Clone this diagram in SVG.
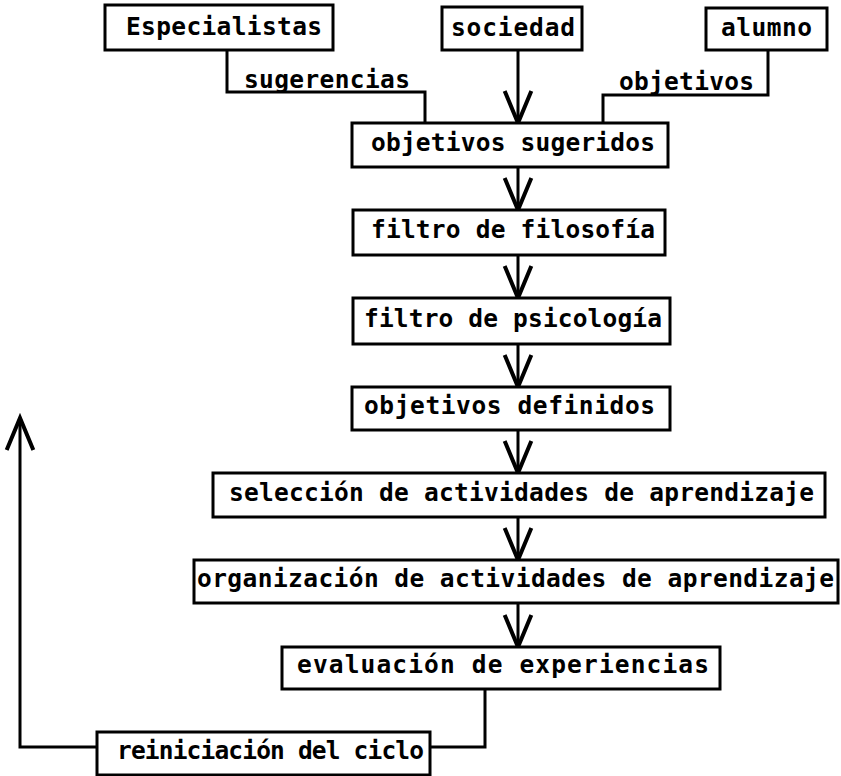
<svg xmlns="http://www.w3.org/2000/svg" width="841" height="776" viewBox="0 0 841 776">
<style>
  .box { fill: #fff; stroke: #000; stroke-width: 3; }
  .lbl { font-family: "DejaVu Sans Mono", "Liberation Mono", monospace; font-weight: bold; font-size: 24.5px; fill: #000; }
  .ln { fill: none; stroke: #000; stroke-width: 3; stroke-linejoin: miter; }
  .arr { fill: none; stroke: #000; stroke-width: 3; marker-end: url(#open); }
</style>
<defs>
  <marker id="open" markerUnits="userSpaceOnUse" markerWidth="40" markerHeight="40" viewBox="-2 -2 30 26" refX="24" refY="10" orient="auto" overflow="visible">
    <path d="M0,0 L24,10 L0,20" fill="none" stroke="#000" stroke-width="3"/>
  </marker>
</defs>
<rect width="841" height="776" fill="#fff"/>

<g id="connectors">
  <polyline class="ln" points="227,50 227,92 425,92 425,123"/>
  <polyline class="ln" points="768,50 768,95 603,95 603,123"/>
  <line class="arr" x1="518" y1="50" x2="518" y2="123"/>
  <line class="arr" x1="518" y1="167" x2="518" y2="210"/>
  <line class="arr" x1="518" y1="255" x2="518" y2="298"/>
  <line class="arr" x1="518" y1="344" x2="518" y2="387"/>
  <line class="arr" x1="518" y1="430" x2="518" y2="473"/>
  <line class="arr" x1="518" y1="517" x2="518" y2="560"/>
  <line class="arr" x1="518" y1="603" x2="518" y2="647"/>
  <polyline class="ln" points="485,689 485,747 430,747"/>
  <polyline class="arr" points="97,747 20,747 20,418"/>
  <text class="lbl" x="244" y="88" textLength="166">sugerencias</text>
  <text class="lbl" x="619" y="90" textLength="135">objetivos</text>
</g>

<g id="especialistas">
  <rect class="box" x="105" y="5" width="228" height="45"/>
  <text class="lbl" x="126" y="35" textLength="196">Especialistas</text>
</g>
<g id="sociedad">
  <rect class="box" x="442" y="7" width="140" height="43"/>
  <text class="lbl" x="451" y="36" textLength="124">sociedad</text>
</g>
<g id="alumno">
  <rect class="box" x="706" y="8" width="121" height="42"/>
  <text class="lbl" x="721" y="36" textLength="91">alumno</text>
</g>
<g id="objetivos-sugeridos">
  <rect class="box" x="352" y="123" width="316" height="44"/>
  <text class="lbl" x="371" y="151" textLength="284">objetivos sugeridos</text>
</g>
<g id="filtro-filosofia">
  <rect class="box" x="353" y="210" width="312" height="45"/>
  <text class="lbl" x="371" y="238" textLength="284">filtro de filosofía</text>
</g>
<g id="filtro-psicologia">
  <rect class="box" x="353" y="298" width="317" height="46"/>
  <text class="lbl" x="364" y="327" textLength="298">filtro de psicología</text>
</g>
<g id="objetivos-definidos">
  <rect class="box" x="352" y="387" width="318" height="43"/>
  <text class="lbl" x="364" y="414" textLength="291">objetivos definidos</text>
</g>
<g id="seleccion">
  <rect class="box" x="213" y="473" width="612" height="44"/>
  <text class="lbl" x="229" y="501" textLength="585">selección de actividades de aprendizaje</text>
</g>
<g id="organizacion">
  <rect class="box" x="194" y="560" width="644" height="43"/>
  <text class="lbl" x="197" y="587" textLength="637">organización de actividades de aprendizaje</text>
</g>
<g id="evaluacion">
  <rect class="box" x="282" y="647" width="438" height="42"/>
  <text class="lbl" x="297" y="673" textLength="412">evaluación de experiencias</text>
</g>
<g id="reiniciacion">
  <rect class="box" x="97" y="732" width="333" height="43"/>
  <text class="lbl" x="117" y="759" textLength="307">reiniciación del ciclo</text>
</g>
</svg>
